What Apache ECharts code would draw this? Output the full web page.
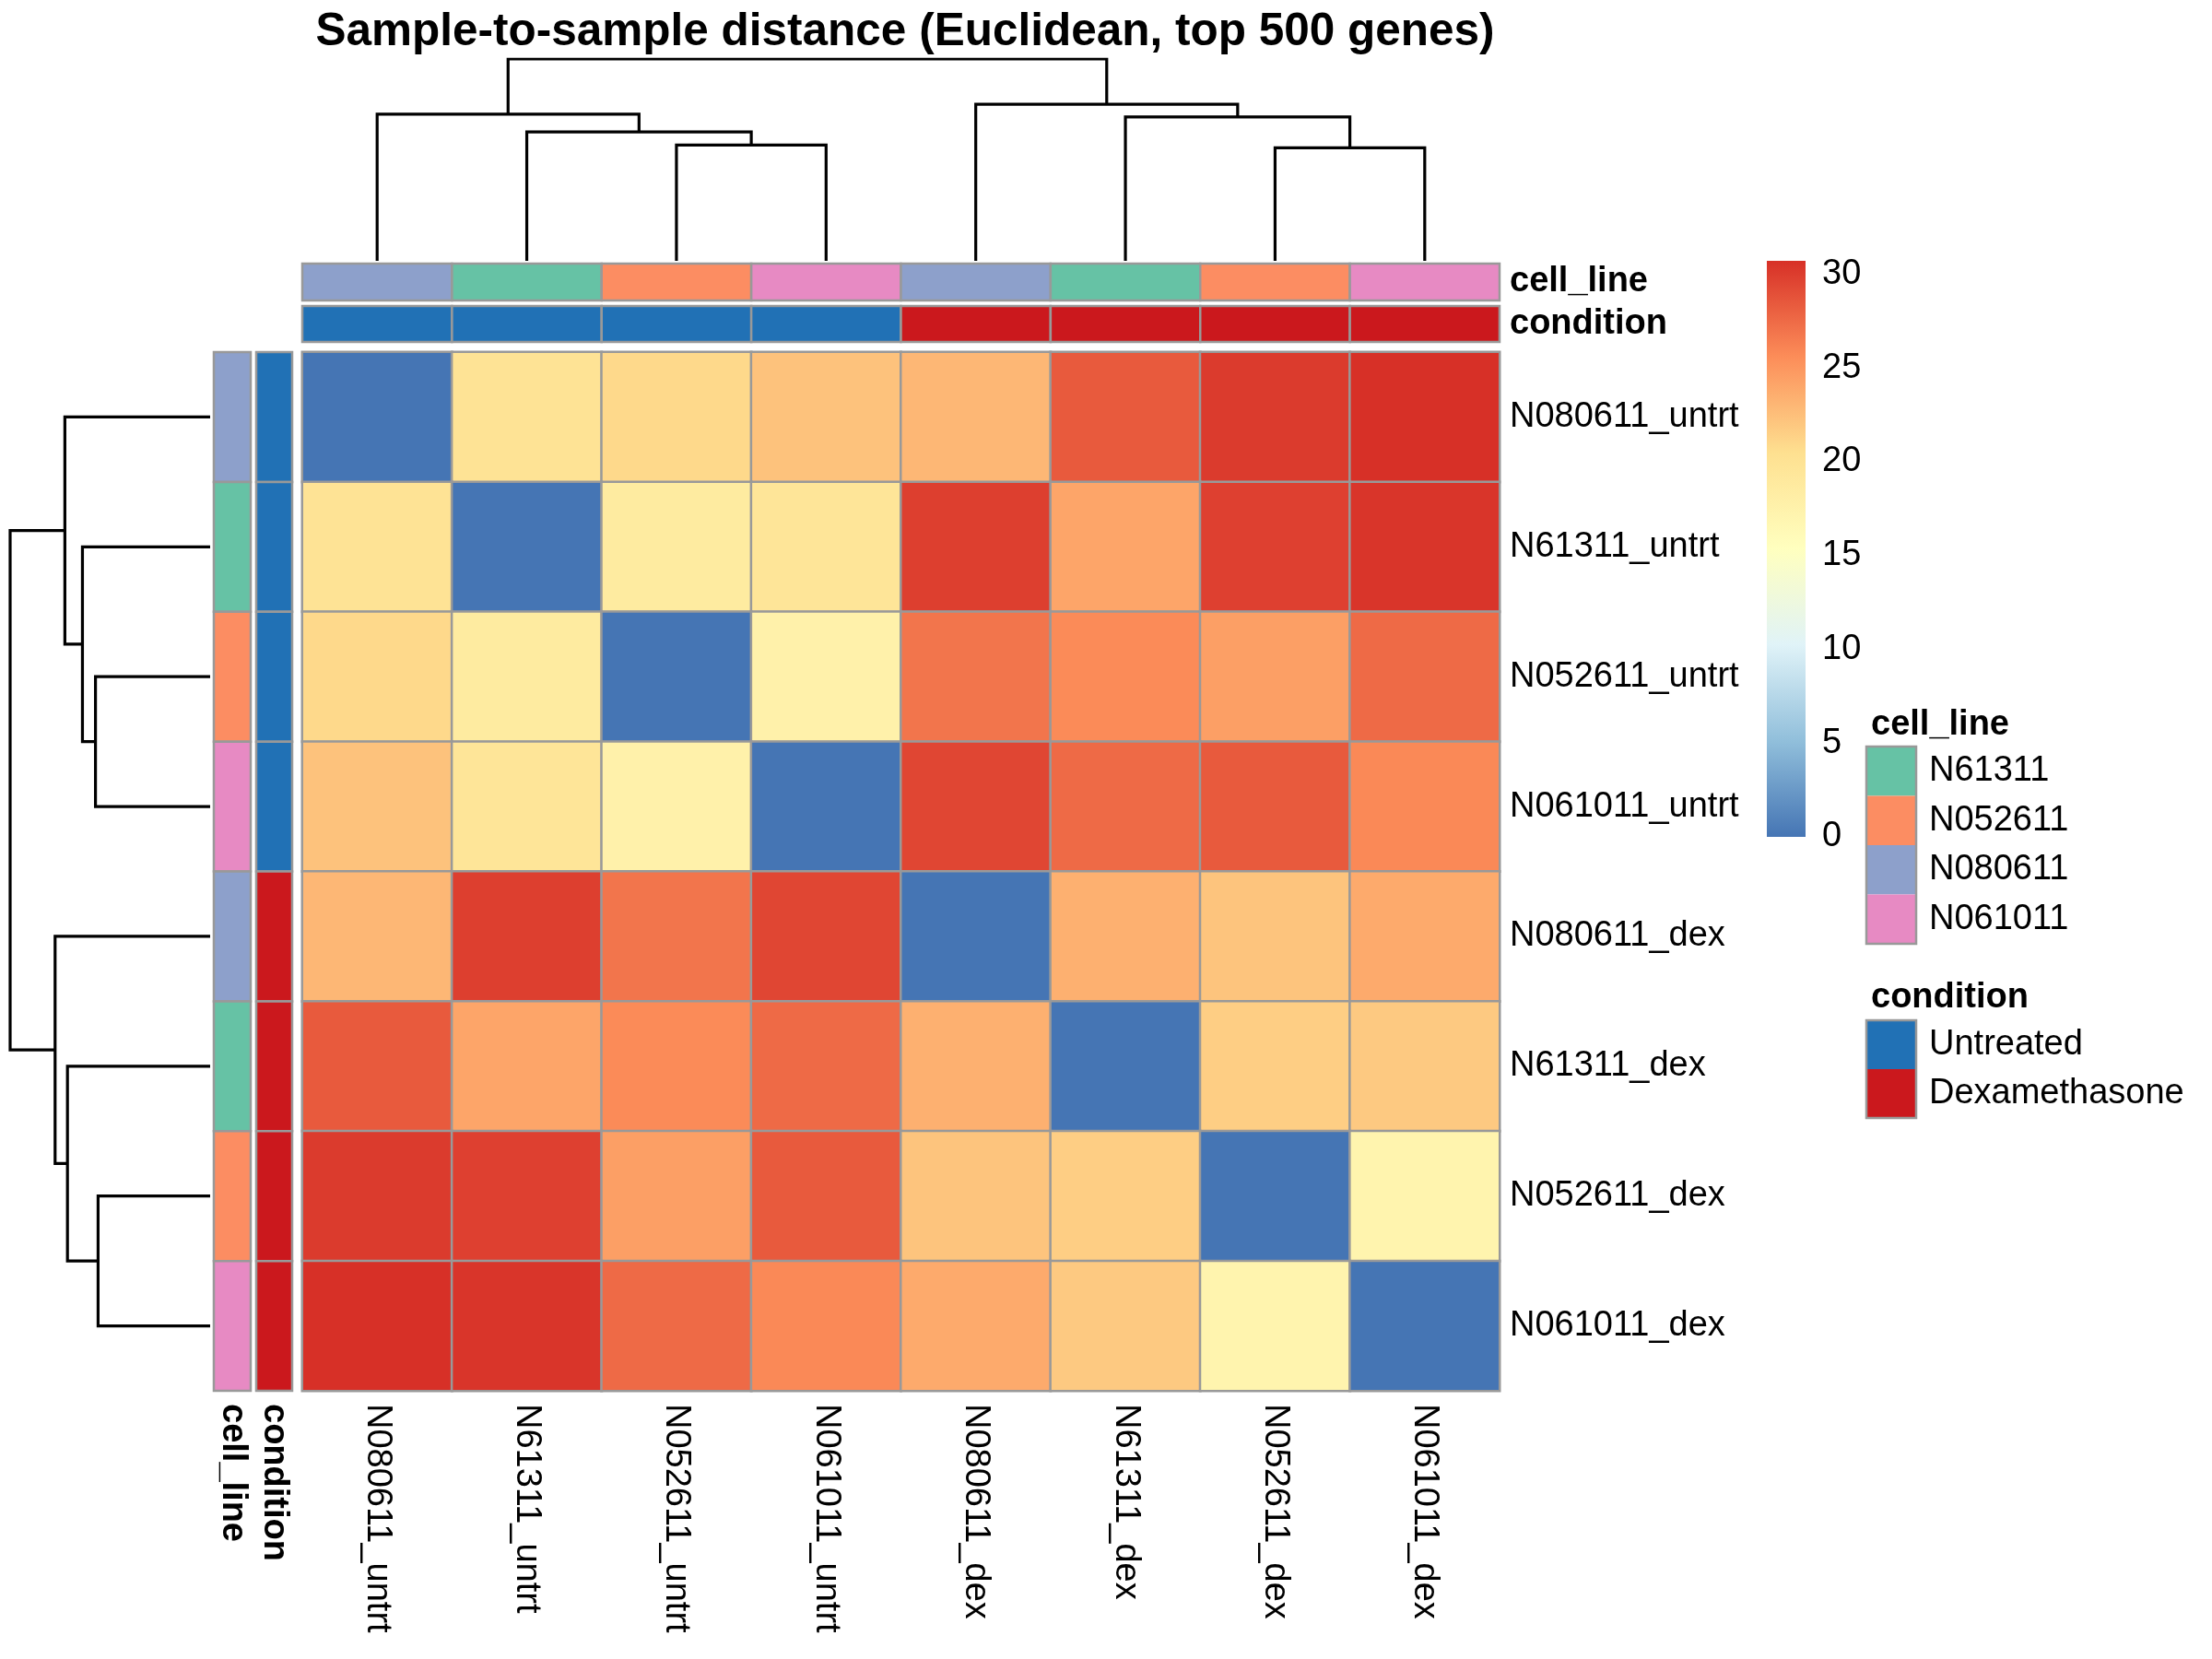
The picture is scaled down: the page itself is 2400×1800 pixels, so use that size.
<!DOCTYPE html>
<html><head><meta charset="utf-8">
<script src="https://cdn.jsdelivr.net/npm/echarts@6/dist/echarts.min.js"></script>
<style>html,body{margin:0;padding:0;background:#fff}#c{width:2400px;height:1800px}</style>
</head><body><div id="c"></div>
<script>
// ---------------- data ----------------
const samples = ['N080611_untrt','N61311_untrt','N052611_untrt','N061011_untrt','N080611_dex','N61311_dex','N052611_dex','N061011_dex'];
const sampleCellLine = ['N080611','N61311','N052611','N061011','N080611','N61311','N052611','N061011'];
const sampleCondition = ['Untreated','Untreated','Untreated','Untreated','Dexamethasone','Dexamethasone','Dexamethasone','Dexamethasone'];
const distances = [
  [0.0, 19.9, 20.9, 22.3, 23.0, 28.4, 30.1, 30.7],
  [19.9, 0.0, 18.7, 19.6, 29.9, 24.1, 29.8, 30.4],
  [20.9, 18.7, 0.0, 17.6, 26.9, 25.7, 24.5, 27.5],
  [22.3, 19.6, 17.6, 0.0, 29.5, 27.5, 28.4, 25.8],
  [23.0, 29.9, 26.9, 29.5, 0.0, 23.4, 22.2, 23.8],
  [28.4, 24.1, 25.7, 27.5, 23.4, 0.0, 21.6, 21.9],
  [30.1, 29.8, 24.5, 28.4, 22.2, 21.6, 0.0, 17.2],
  [30.7, 30.4, 27.5, 25.8, 23.8, 21.9, 17.2, 0.0]
];
// hclust-style merge table (negative = leaf number in display order, positive = earlier merge)
const treeMerge = [[-7,-8],[-3,-4],[-2,2],[-6,1],[-1,3],[-5,4],[5,6]];
const treeHeight = [17.2, 17.6, 19.6, 21.9, 22.3, 23.8, 30.7];
const cellLineLevels = ['N61311','N052611','N080611','N061011'];
const conditionLevels = ['Untreated','Dexamethasone'];
const colorTicks = [0, 5, 10, 15, 20, 25, 30];
const colorRange = [0, 30.7];

// ---------------- styles ----------------
const FONT = '"Liberation Sans", Arial, Helvetica, sans-serif';
const FS = 38;
const heatPalette = ['#4575B4','#91BFDB','#E0F3F8','#FFFFBF','#FEE090','#FC8D59','#D73027'];
const cellLineColors = {N61311:'#66C2A5', N052611:'#FC8D62', N080611:'#8DA0CB', N061011:'#E78AC3'};
const conditionColors = {Untreated:'#2171B5', Dexamethasone:'#CB181D'};
const BORDER = '#999999';

// ---------------- helpers ----------------
function dendroSegments(merge, heights) {
  const pos = [], hgt = [], segs = [];
  merge.forEach((m, i) => {
    const get = k => k < 0 ? [(-k) - 0.5, 0] : [pos[k - 1], hgt[k - 1]];
    const a = get(m[0]), b = get(m[1]);
    const h = heights[i];
    segs.push([[a[0], a[1]], [a[0], h], [b[0], h], [b[0], b[1]]]);
    pos.push((a[0] + b[0]) / 2); hgt.push(h);
  });
  return segs;
}
const segs = dendroSegments(treeMerge, treeHeight);
const rootH = Math.max(...treeHeight);

function rectRenderer(colorFor, stroke) {
  return function (params, api) {
    const p = api.coord([api.value(0), api.value(1)]);
    const s = api.size([1, 1]);
    return {
      type: 'rect',
      shape: {x: p[0] - s[0] / 2, y: p[1] - s[1] / 2, width: s[0], height: s[1]},
      style: {fill: colorFor(params.dataIndex), stroke: stroke ? BORDER : null, lineWidth: stroke ? 2.5 : 0}
    };
  };
}
const hidden = {show: false};
function hiddenCat(data, inverse) { return {type: 'category', data: data, show: false, inverse: !!inverse}; }
function hiddenVal(min, max, inverse) { return {type: 'value', min: min, max: max, show: false, inverse: !!inverse, splitLine: hidden}; }
const txt = {color: '#000', fontFamily: FONT, fontSize: FS};
const rightLbl = {padding: [6, 0, 0, 0]};

const heatData = [];
distances.forEach((row, r) => row.forEach((v, c) => heatData.push([c, r, v])));

const option = {
  backgroundColor: '#ffffff',
  animation: false,
  title: [
    {text: 'Sample-to-sample distance (Euclidean, top 500 genes)', left: 977, top: 4, textAlign: 'center',
     textStyle: {color: '#000', fontFamily: FONT, fontSize: 49.5, fontWeight: 'bold', lineHeight: 52}},
    {text: 'cell_line', left: 2025, top: 762, textStyle: Object.assign({}, txt, {fontWeight: 'bold', lineHeight: 40})},
    {text: 'condition', left: 2025, top: 1058, textStyle: Object.assign({}, txt, {fontWeight: 'bold', lineHeight: 40})}
  ],
  grid: [
    {left: 328, top: 382, width: 1299, height: 1127},            // 0 heatmap
    {left: 328, top: 64, width: 1299, height: 219},              // 1 top dendrogram
    {left: 11, top: 382, width: 217, height: 1127},              // 2 left dendrogram
    {left: 328, top: 286, width: 1299, height: 40},              // 3 top cell_line
    {left: 328, top: 332, width: 1299, height: 39},              // 4 top condition
    {left: 232, top: 382, width: 40, height: 1127},              // 5 left cell_line
    {left: 278, top: 382, width: 39, height: 1127},              // 6 left condition
    {left: 1917, top: 283, width: 42, height: 625},              // 7 colour bar
    {left: 2025, top: 810, width: 54, height: 214, show: true, z: 10, borderColor: BORDER, borderWidth: 2.5, backgroundColor: 'transparent'}, // 8 legend cell_line
    {left: 2025, top: 1107, width: 54, height: 106, show: true, z: 10, borderColor: BORDER, borderWidth: 2.5, backgroundColor: 'transparent'} // 9 legend condition
  ],
  xAxis: [
    {gridIndex: 0, type: 'category', data: samples, position: 'bottom', axisLine: hidden, axisTick: hidden, splitLine: hidden,
     axisLabel: Object.assign({}, txt, {rotate: -90, margin: 14, interval: 0})},
    Object.assign(hiddenVal(0, samples.length), {gridIndex: 1}),
    Object.assign(hiddenVal(0, rootH, true), {gridIndex: 2}),
    Object.assign(hiddenCat(samples), {gridIndex: 3}),
    Object.assign(hiddenCat(samples), {gridIndex: 4}),
    {gridIndex: 5, type: 'category', data: ['cell_line'], axisLine: hidden, axisTick: hidden,
     axisLabel: Object.assign({}, txt, {rotate: -90, margin: 14, fontWeight: 'bold'})},
    {gridIndex: 6, type: 'category', data: ['condition'], axisLine: hidden, axisTick: hidden,
     axisLabel: Object.assign({}, txt, {rotate: -90, margin: 14, fontWeight: 'bold'})},
    Object.assign(hiddenVal(0, 1), {gridIndex: 7}),
    Object.assign(hiddenVal(0, 1), {gridIndex: 8}),
    Object.assign(hiddenVal(0, 1), {gridIndex: 9})
  ],
  yAxis: [
    {gridIndex: 0, type: 'category', data: samples, inverse: true, position: 'right', axisLine: hidden, axisTick: hidden, splitLine: hidden,
     axisLabel: Object.assign({}, txt, rightLbl, {margin: 11, interval: 0})},
    Object.assign(hiddenVal(0, rootH), {gridIndex: 1}),
    Object.assign(hiddenVal(0, samples.length, true), {gridIndex: 2}),
    {gridIndex: 3, type: 'category', data: ['cell_line'], position: 'right', axisLine: hidden, axisTick: hidden,
     axisLabel: Object.assign({}, txt, rightLbl, {margin: 11, fontWeight: 'bold'})},
    {gridIndex: 4, type: 'category', data: ['condition'], position: 'right', axisLine: hidden, axisTick: hidden,
     axisLabel: Object.assign({}, txt, rightLbl, {margin: 11, fontWeight: 'bold'})},
    Object.assign(hiddenCat(samples, true), {gridIndex: 5}),
    Object.assign(hiddenCat(samples, true), {gridIndex: 6}),
    {gridIndex: 7, type: 'value', min: colorRange[0], max: colorRange[1], interval: 5, position: 'right',
     axisLine: hidden, axisTick: hidden, splitLine: hidden,
     axisLabel: Object.assign({}, txt, rightLbl, {margin: 18, formatter: v => colorTicks.indexOf(v) >= 0 ? String(v) : ''})},
    {gridIndex: 8, type: 'category', data: cellLineLevels, inverse: true, position: 'right', axisLine: hidden, axisTick: hidden,
     axisLabel: Object.assign({}, txt, rightLbl, {margin: 14})},
    {gridIndex: 9, type: 'category', data: conditionLevels, inverse: true, position: 'right', axisLine: hidden, axisTick: hidden,
     axisLabel: Object.assign({}, txt, rightLbl, {margin: 14})}
  ],
  visualMap: [{type: 'continuous', show: false, min: colorRange[0], max: colorRange[1], seriesIndex: 0, dimension: 2,
               inRange: {color: heatPalette}}],
  series: [
    {type: 'heatmap', xAxisIndex: 0, yAxisIndex: 0, data: heatData,
     itemStyle: {borderColor: BORDER, borderWidth: 2.5}, emphasis: {disabled: true}, label: hidden},
    {type: 'lines', coordinateSystem: 'cartesian2d', xAxisIndex: 1, yAxisIndex: 1, polyline: true, silent: true,
     data: segs.map(s => ({coords: s})), lineStyle: {color: '#000', width: 3.2, opacity: 1}},
    {type: 'lines', coordinateSystem: 'cartesian2d', xAxisIndex: 2, yAxisIndex: 2, polyline: true, silent: true,
     data: segs.map(s => ({coords: s.map(p => [p[1], p[0]])})), lineStyle: {color: '#000', width: 3.2, opacity: 1}},
    {type: 'custom', xAxisIndex: 3, yAxisIndex: 3, data: samples.map((s, i) => [i, 0]),
     renderItem: rectRenderer(i => cellLineColors[sampleCellLine[i]], true)},
    {type: 'custom', xAxisIndex: 4, yAxisIndex: 4, data: samples.map((s, i) => [i, 0]),
     renderItem: rectRenderer(i => conditionColors[sampleCondition[i]], true)},
    {type: 'custom', xAxisIndex: 5, yAxisIndex: 5, data: samples.map((s, i) => [0, i]),
     renderItem: rectRenderer(i => cellLineColors[sampleCellLine[i]], true)},
    {type: 'custom', xAxisIndex: 6, yAxisIndex: 6, data: samples.map((s, i) => [0, i]),
     renderItem: rectRenderer(i => conditionColors[sampleCondition[i]], true)},
    {type: 'custom', xAxisIndex: 7, yAxisIndex: 7, data: [[0, colorRange[0], 1, colorRange[1]]],
     renderItem: function (params, api) {
       const p0 = api.coord([api.value(0), api.value(1)]);
       const p1 = api.coord([api.value(2), api.value(3)]);
       return {type: 'rect', shape: {x: p0[0], y: p1[1], width: p1[0] - p0[0], height: p0[1] - p1[1]},
         style: {fill: {type: 'linear', x: 0, y: 1, x2: 0, y2: 0,
           colorStops: heatPalette.map((c, k) => ({offset: k / (heatPalette.length - 1), color: c}))}}};
     }},
    {type: 'custom', xAxisIndex: 8, yAxisIndex: 8, data: cellLineLevels.map((l, i) => [0.5, i]),
     renderItem: rectRenderer(i => cellLineColors[cellLineLevels[i]], false)},
    {type: 'custom', xAxisIndex: 9, yAxisIndex: 9, data: conditionLevels.map((l, i) => [0.5, i]),
     renderItem: rectRenderer(i => conditionColors[conditionLevels[i]], false)}
  ]
};
const chart = echarts.init(document.getElementById('c'), null, {renderer: 'canvas'});
chart.setOption(option);
</script></body></html>
